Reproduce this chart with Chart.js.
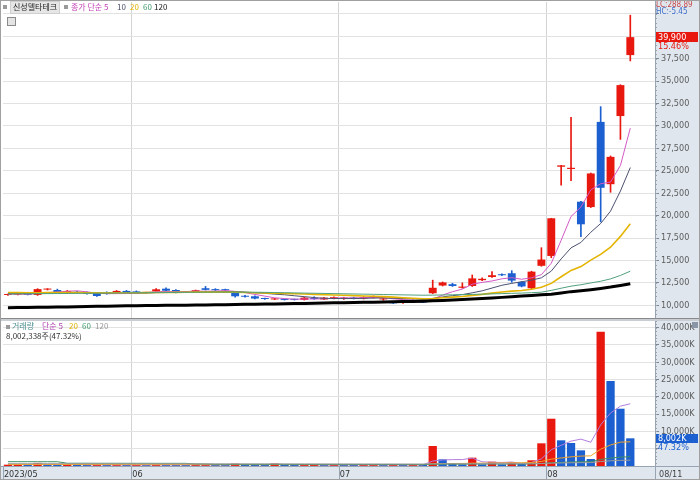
<!DOCTYPE html>
<html>
<head>
<meta charset="utf-8">
<script src="https://cdn.jsdelivr.net/npm/chart.js@4.4.0/dist/chart.umd.min.js"></script>
<style>
body { margin: 0; background: #fff; }
#wrap { position: relative; width: 700px; height: 480px; overflow: hidden; font-family: "Noto Sans CJK KR", sans-serif; }
canvas { position: absolute; left: 0; }
#price { top: 0; }
#vol { top: 319px; }
.t { position: absolute; font-size: 8px; line-height: 10px; white-space: nowrap; }
.n { font-family: "Liberation Sans Narrow", "DejaVu Sans Condensed", sans-serif; font-size: 9px; }
.s { font-size: 8px; line-height: 8px; }
.sq { position: absolute; width: 4px; height: 4px; background: #9a9a9a; }
#frame { position: absolute; left: 0; top: 0; width: 698px; height: 478px; border: 1px solid #a0a0a0; pointer-events: none; }
</style>
</head>
<body>
<div id="wrap">
  <canvas id="price" width="700" height="319"></canvas>
  <canvas id="vol" width="700" height="161"></canvas>

  <!-- price panel header -->
  <span class="sq" style="left:3px;top:5px"></span>
  <div class="t" style="left:10px;top:1px;height:11px;padding:0 2px;background:#e6e6e6;border:1px solid #cfcfcf;color:#222">신성델타테크</div>
  <span class="sq" style="left:64px;top:5px"></span>
  <div class="t" style="left:71px;top:2px;color:#c23fb5">종가 단순 5</div>
  <div class="t" style="left:117px;top:2px;color:#4a4f6a">10</div>
  <div class="t" style="left:130px;top:2px;color:#e2b200">20</div>
  <div class="t" style="left:143px;top:2px;color:#3f9a6c">60</div>
  <div class="t" style="left:154px;top:2px;color:#222">120</div>
  <div style="position:absolute;left:7px;top:17px;width:7px;height:7px;border:1px solid #8a8a8a;background:#e4e4e4"></div>

  <!-- volume panel header -->
  <span class="sq" style="left:6px;top:325px"></span>
  <div class="t" style="left:12px;top:321px;color:#4a8f8f">거래량</div>
  <div class="t" style="left:42px;top:321px;color:#b040b0">단순 5</div>
  <div class="t" style="left:69px;top:321px;color:#e2b200">20</div>
  <div class="t" style="left:82px;top:321px;color:#3f9a6c">60</div>
  <div class="t" style="left:95px;top:321px;color:#999">120</div>
  <div class="t" style="left:6px;top:331px;color:#333">8,002,338주(47.32%)</div>

  <!-- right axis panel labels -->
  <div class="t n s" style="left:656px;top:1px;color:#c84a4a">LC:288.89</div>
  <div class="t n s" style="left:656px;top:8px;color:#3b6cc8">HC:-5.45</div>
  <div id="pbox" class="t n" style="left:656px;width:40px;height:10px;background:#e8180f;color:#fff;padding-left:2px">39,900</div>
  <div id="ppct" class="t n" style="left:658px;color:#e8180f">15.46%</div>
  <div id="vbox" class="t n" style="left:656px;width:40px;height:9px;line-height:9px;background:#1b5fd0;color:#fff;padding-left:2px">8,002K</div>
  <div id="vpct" class="t n" style="left:658px;color:#1b5fd0">47.32%</div>
  <div class="t n" style="left:659px;top:469px;color:#444">08/11</div>
  <div style="position:absolute;left:692px;top:322px;width:6px;height:6px;background:#8a96a6"></div>
  <div id="frame"></div>
</div>

<script>
// trading days shown (mid May .. Aug 11, 2023)
const dates = [
  '2023/05/12','2023/05/15','2023/05/16','2023/05/17','2023/05/18','2023/05/19','2023/05/22','2023/05/23','2023/05/24','2023/05/25',
  '2023/05/26','2023/05/30','2023/05/31','2023/06/01','2023/06/02','2023/06/05','2023/06/07','2023/06/08','2023/06/09','2023/06/12',
  '2023/06/13','2023/06/14','2023/06/15','2023/06/16','2023/06/19','2023/06/20','2023/06/21','2023/06/22','2023/06/23','2023/06/26',
  '2023/06/27','2023/06/28','2023/06/29','2023/06/30','2023/07/03','2023/07/04','2023/07/05','2023/07/06','2023/07/07','2023/07/10',
  '2023/07/11','2023/07/12','2023/07/13','2023/07/14','2023/07/17','2023/07/18','2023/07/19','2023/07/20','2023/07/21','2023/07/24',
  '2023/07/25','2023/07/26','2023/07/27','2023/07/28','2023/07/31','2023/08/01','2023/08/02','2023/08/03','2023/08/04','2023/08/07',
  '2023/08/08','2023/08/09','2023/08/10','2023/08/11'
];

const open = [
  11150,11180,11400,11150,11750,11700,11350,11500,11480,11370,
  11450,11350,11600,11550,11380,11550,11850,11700,11500,11450,
  11900,11800,11720,11380,11050,11000,10750,10650,10650,10650,
  10600,10750,10650,10750,10700,10850,10750,10850,10650,10400,
  10250,10330,10590,11340,12200,12350,11950,12150,12800,13150,
  13420,13570,12600,11900,14400,15500,25450,25200,21550,20950,
  30450,23500,31100,37900
];
const high = [
  11250,11250,11450,11850,11850,11800,11650,11550,11500,11400,
  11500,11650,11650,11600,11450,11850,11950,11750,11550,11700,
  12100,11850,11800,11450,11100,11050,10800,10780,10700,10700,
  10900,10950,10880,10950,10900,10900,10950,11050,10800,10450,
  10350,10620,10620,12800,12600,12450,12500,13380,13050,13750,
  13500,13860,12650,13800,16420,19700,25610,30960,21600,24750,
  32150,26650,34600,42350
];
const low = [
  11100,11150,11150,11100,11700,11450,11300,11350,11250,11000,
  11230,11300,11400,11380,11350,11500,11600,11380,11400,11400,
  11700,11650,11650,10900,10900,10700,10650,10620,10580,10580,
  10580,10650,10620,10700,10650,10700,10700,10800,10550,10200,
  10200,10300,10280,11300,12150,12100,11900,12100,12750,13100,
  13300,12560,12050,11850,14350,15300,23400,23900,17650,20900,
  19300,22600,28500,37250
];
const close = [
  11200,11200,11150,11800,11780,11480,11600,11380,11260,11030,
  11250,11600,11420,11400,11420,11780,11620,11400,11420,11680,
  11720,11680,11680,11000,10950,10750,10700,10750,10600,10600,
  10850,10700,10850,10900,10850,10750,10900,11000,10750,10220,
  10300,10590,10300,11950,12550,12150,12080,13000,12950,13350,
  13350,12750,12100,13750,15100,19700,25600,25330,19030,24700,
  23100,26550,34550,39900
];

// price moving averages (5, 10, 20, 60, 120)
const ma5 = [
  11250,11250,11230,11330,11420,11480,11560,11610,11500,11350,
  11300,11300,11310,11340,11420,11520,11530,11520,11530,11580,
  11570,11580,11640,11550,11410,11210,11020,10830,10750,10680,
  10700,10700,10720,10780,10830,10810,10850,10880,10850,10720,
  10630,10570,10430,10670,11140,11510,11810,12350,12550,12710,
  12950,13080,12900,13060,13410,14680,17250,19900,20950,22870,
  23550,23740,25590,29760
];
const ma10 = [
  11300,11310,11300,11330,11360,11380,11400,11420,11400,11370,
  11370,11400,11390,11360,11360,11410,11420,11430,11430,11450,
  11480,11490,11520,11520,11470,11390,11330,11240,11170,11060,
  10960,10860,10780,10750,10760,10750,10770,10800,10820,10780,
  10740,10710,10660,10760,10930,11070,11190,11390,11610,11920,
  12230,12440,12620,12800,13060,13810,15170,16400,17010,18140,
  19120,20500,22740,25360
];
const ma20 = [
  11420,11410,11400,11400,11410,11410,11420,11410,11400,11390,
  11390,11400,11400,11400,11410,11420,11430,11440,11450,11460,
  11470,11470,11470,11450,11430,11400,11370,11340,11310,11280,
  11250,11210,11180,11140,11110,11070,11040,11010,10960,10910,
  10840,10780,10720,10760,10840,10910,10980,11100,11210,11350,
  11480,11580,11640,11780,12000,12440,13180,13890,14310,15030,
  15670,16470,17680,19080
];
const ma60 = [
  11260,11270,11280,11290,11300,11310,11320,11330,11340,11350,
  11360,11370,11380,11390,11400,11410,11420,11430,11440,11450,
  11460,11470,11470,11470,11460,11450,11440,11420,11400,11380,
  11360,11340,11320,11300,11280,11260,11240,11220,11200,11180,
  11160,11140,11120,11130,11150,11170,11190,11210,11240,11270,
  11300,11330,11360,11400,11460,11660,11900,12130,12290,12490,
  12680,12940,13330,13800
];
const ma120 = [
  9730,9745,9760,9775,9790,9805,9820,9840,9860,9880,
  9900,9920,9940,9960,9970,9980,9990,10000,10010,10020,
  10030,10050,10060,10080,10100,10110,10130,10150,10170,10190,
  10210,10230,10250,10270,10290,10310,10330,10350,10370,10390,
  10410,10430,10450,10490,10540,10590,10640,10700,10760,10820,
  10880,10950,11020,11090,11160,11230,11380,11520,11620,11740,
  11880,12030,12210,12400
];

// volume in thousands of shares
const volume = [
  380,420,350,900,480,360,520,300,280,350,
  300,420,290,300,260,480,400,310,270,330,
  460,310,280,680,450,380,300,720,330,290,
  310,390,300,400,360,300,330,370,290,410,
  300,360,330,5780,1930,780,490,2400,490,1240,
  490,1070,580,1650,6560,13670,7420,6650,4530,2020,
  38820,24570,16560,8002
];
const vma5 = [
  420,430,420,500,510,500,520,490,370,360,
  350,330,330,330,310,350,350,350,340,360,
  350,340,330,410,440,420,420,510,440,400,
  390,410,320,340,350,350,340,350,330,340,
  340,350,340,1440,1740,1840,1860,2280,1220,1080,
  1020,1140,770,1010,2070,4710,5980,7190,7770,6860,
  11890,15320,17300,17990
];
const vma20 = [
  430,430,430,440,440,440,430,430,420,420,
  410,410,410,400,400,400,400,390,390,390,
  390,380,380,400,400,400,390,410,410,410,
  400,400,400,400,400,400,400,390,390,400,
  400,390,390,640,710,730,740,820,830,880,
  890,920,940,1000,1310,1980,2330,2650,2860,2940,
  4860,6070,6890,7000
];
const vma60 = [
  1250,1250,1250,1240,1240,1230,800,800,800,790,
  790,790,780,780,780,770,770,770,760,600,
  590,480,480,480,470,470,470,470,470,460,
  460,460,450,450,450,440,440,440,430,430,
  430,420,420,510,540,540,540,570,570,580,
  580,590,590,610,710,930,1050,1150,1220,1250,
  1890,2290,2560,2690
];
const vma120 = [
  680,680,675,675,670,670,665,665,660,660,
  655,655,650,650,645,645,640,640,635,635,
  630,630,625,625,620,620,615,615,610,610,
  605,605,600,600,595,595,590,590,585,585,
  580,580,575,620,630,635,635,650,650,655,
  655,660,660,670,720,830,890,940,970,980,
  1300,1500,1630,1690
];

const priceTicks = [10000,12500,15000,17500,20000,22500,25000,27500,30000,32500,35000,37500,40000,42500];
const volTicks = [5000,10000,15000,20000,25000,30000,35000,40000];

// ---- styling ----
const UP = '#e8180f', DOWN = '#1b5fd0';
const PANEL = '#dfe6ee';
const NARROW = '"Liberation Sans Narrow", "DejaVu Sans Condensed", sans-serif';
const labels = dates.concat(['', '']);   // two empty slots at the right edge

const candleColor = open.map((o, i) => close[i] >= o ? UP : DOWN);
const volColor = volume.map((v, i) => (i === 0 || v >= volume[i - 1]) ? UP : DOWN);

function isMonthStart(i) {
  return i > 0 && i < dates.length && dates[i].slice(5, 7) !== dates[i - 1].slice(5, 7);
}
function xLabel(i) {
  if (i === 0) return dates[0].slice(0, 7);
  return isMonthStart(i) ? dates[i].slice(5, 7) : '';
}

const panelBg = {
  id: 'panelBg',
  beforeDraw(chart) {
    const { ctx, chartArea: a, width, height } = chart;
    ctx.save();
    ctx.fillStyle = PANEL;
    ctx.fillRect(a.right, 0, width - a.right, height);
    if (chart.canvas.id === 'vol') ctx.fillRect(0, a.bottom, a.right, height - a.bottom);
    ctx.restore();
  },
  afterDraw(chart) {
    const { ctx, chartArea: a, width, height } = chart;
    const y = chart.scales.y, x = chart.scales.x;
    ctx.save();
    ctx.strokeStyle = '#98a4b2';
    ctx.lineWidth = 1;
    ctx.beginPath();
    ctx.moveTo(a.right + 0.5, 0); ctx.lineTo(a.right + 0.5, height);
    ctx.stroke();
    // minor ticks on the value axis
    ctx.strokeStyle = '#9aa3ae';
    const step = chart.canvas.id === 'price' ? 500 : 1000;
    ctx.beginPath();
    for (let v = Math.ceil(y.min / step) * step; v <= y.max; v += step) {
      const py = Math.round(y.getPixelForValue(v)) + 0.5;
      ctx.moveTo(a.right, py); ctx.lineTo(a.right + 2, py);
    }
    ctx.stroke();
    if (chart.canvas.id === 'vol') {
      ctx.strokeStyle = '#98a4b2';
      ctx.beginPath();
      ctx.moveTo(0, a.bottom + 0.5); ctx.lineTo(width, a.bottom + 0.5);
      ctx.stroke();
      ctx.fillStyle = '#c9ced4';
      ctx.fillRect(0, 0, width, 2);
      ctx.beginPath();
      const half = (x.getPixelForValue(1) - x.getPixelForValue(0)) / 2;
      for (let i = 0; i < dates.length; i++) {
        if (i === 0 || isMonthStart(i)) {
          const px = Math.round(x.getPixelForValue(i) - half) + 0.5;
          ctx.moveTo(px, a.bottom); ctx.lineTo(px, height);
        }
      }
      ctx.stroke();
    } else {
      ctx.strokeStyle = '#8a8a8a';
      ctx.beginPath();
      ctx.moveTo(0, a.bottom + 0.5); ctx.lineTo(width, a.bottom + 0.5);
      ctx.stroke();
    }
    ctx.restore();
  }
};

function maLine(data, color, width) {
  return { type: 'line', data, borderColor: color, borderWidth: width, pointRadius: 0, tension: 0, order: 0 };
}

function xScale(showLabels) {
  return {
    type: 'category',
    labels,
    offset: true,
    border: { display: false },
    grid: {
      offset: true,
      drawTicks: false,
      color: c => isMonthStart(c.index) ? '#d4d4d4' : 'rgba(0,0,0,0)'
    },
    ticks: showLabels ? {
      autoSkip: false, maxRotation: 0, align: 'start', labelOffset: -4, padding: 3,
      color: '#333', font: { family: NARROW, size: 9 },
      callback: (v, i) => xLabel(i)
    } : { display: false },
    afterFit: s => { s.height = showLabels ? 14 : 0; s.paddingLeft = 0; s.paddingRight = 0; }
  };
}

function yScale(min, max, ticks, fmt) {
  return {
    position: 'right',
    min, max,
    border: { display: false },
    grid: { color: '#e2e2e2', tickLength: 4, tickColor: '#7d8794' },
    afterBuildTicks: s => { s.ticks = ticks.map(v => ({ value: v })); },
    ticks: { padding: 2, color: '#5c5c5c', font: { family: NARROW, size: 9 }, callback: fmt },
    afterFit: s => { s.width = 45; s.paddingTop = 0; s.paddingBottom = 0; }
  };
}

Chart.defaults.animation = false;

const priceChart = new Chart(document.getElementById('price'), {
  type: 'bar',
  data: {
    labels,
    datasets: [
      maLine(ma120, '#000000', 3),
      maLine(ma60, '#4fa07c', 1),
      maLine(ma20, '#e4b400', 1.6),
      maLine(ma10, '#4b5070', 1),
      maLine(ma5, '#d259c6', 1),
      { data: open.map((o, i) => [o, close[i]]), backgroundColor: candleColor, grouped: false,
        barPercentage: 0.8, categoryPercentage: 1, minBarLength: 1, order: 1 },
      { data: low.map((l, i) => [l, high[i]]), backgroundColor: candleColor, grouped: false,
        barThickness: 1, minBarLength: 1, order: 2 }
    ]
  },
  options: {
    responsive: false,
    devicePixelRatio: 1,
    layout: { padding: { left: 3, top: 2, right: 0, bottom: 1 } },
    plugins: { legend: { display: false }, tooltip: { enabled: false } },
    scales: {
      x: xScale(false),
      y: yScale(8580, 43820, priceTicks, v => v > 38000 ? '' : v.toLocaleString('en-US'))
    }
  },
  plugins: [panelBg]
});

const volChart = new Chart(document.getElementById('vol'), {
  type: 'bar',
  data: {
    labels,
    datasets: [
      maLine(vma120, '#9c9c9c', 1),
      maLine(vma60, '#3f8f62', 1),
      maLine(vma20, '#f0a22a', 1),
      maLine(vma5, '#b27ddc', 1),
      { data: volume, backgroundColor: volColor, barPercentage: 0.84, categoryPercentage: 1, minBarLength: 1, order: 1 }
    ]
  },
  options: {
    responsive: false,
    devicePixelRatio: 1,
    layout: { padding: { left: 3, top: 1, right: 0, bottom: 0 } },
    plugins: { legend: { display: false }, tooltip: { enabled: false } },
    scales: {
      x: xScale(true),
      y: yScale(0, 42200, volTicks, v => v < 6000 ? '' : v.toLocaleString('en-US') + 'K')
    }
  },
  plugins: [panelBg]
});

// place the last-value tags on their scales
const py = priceChart.scales.y.getPixelForValue(close[close.length - 1]);
document.getElementById('pbox').style.top = Math.round(py - 5) + 'px';
document.getElementById('ppct').style.top = Math.round(py + 4) + 'px';
const vy = 319 + volChart.scales.y.getPixelForValue(volume[volume.length - 1]);
document.getElementById('vbox').style.top = Math.round(vy - 4) + 'px';
document.getElementById('vpct').style.top = Math.round(vy + 4) + 'px';
</script>
</body>
</html>
